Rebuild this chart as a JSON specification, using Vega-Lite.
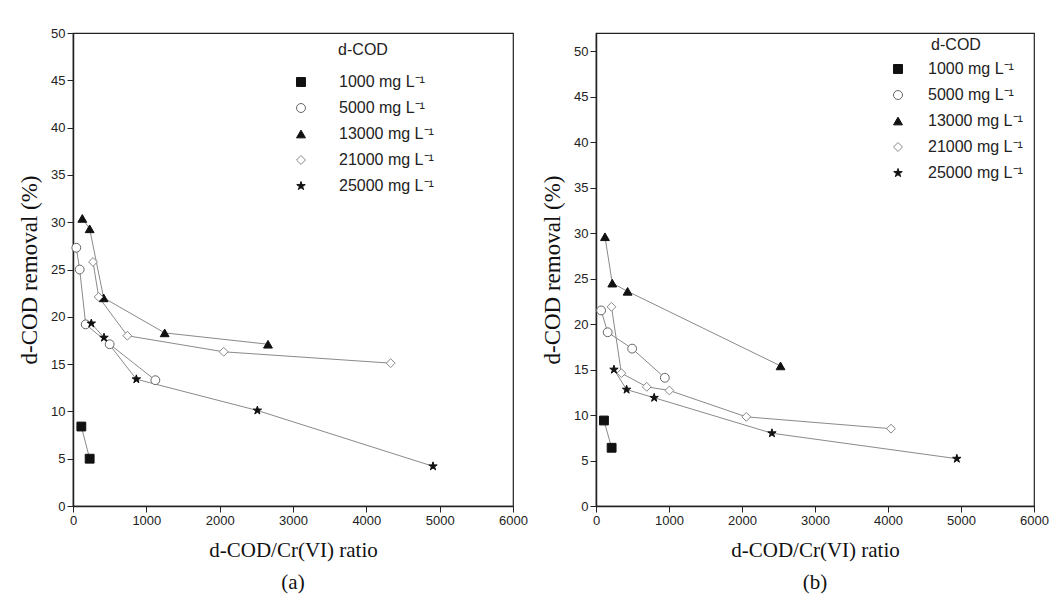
{
  "$schema": "https://vega.github.io/schema/vega-lite/v6.json",
  "background": "white",
  "padding": {"left": 17, "top": 26, "right": 0, "bottom": 5},
  "spacing": 11,
  "datasets": {
    "a": [
      {"series": "1000 mg L⁻¹", "ratio": 114, "removal": 8.4},
      {"series": "1000 mg L⁻¹", "ratio": 227, "removal": 5.0},
      {"series": "5000 mg L⁻¹", "ratio": 45, "removal": 27.3},
      {"series": "5000 mg L⁻¹", "ratio": 91, "removal": 25.0},
      {"series": "5000 mg L⁻¹", "ratio": 173, "removal": 19.2},
      {"series": "5000 mg L⁻¹", "ratio": 500, "removal": 17.1},
      {"series": "5000 mg L⁻¹", "ratio": 1123, "removal": 13.3},
      {"series": "13000 mg L⁻¹", "ratio": 127, "removal": 30.4},
      {"series": "13000 mg L⁻¹", "ratio": 227, "removal": 29.3},
      {"series": "13000 mg L⁻¹", "ratio": 418, "removal": 22.0},
      {"series": "13000 mg L⁻¹", "ratio": 1250, "removal": 18.3},
      {"series": "13000 mg L⁻¹", "ratio": 2659, "removal": 17.1},
      {"series": "21000 mg L⁻¹", "ratio": 273, "removal": 25.8},
      {"series": "21000 mg L⁻¹", "ratio": 350, "removal": 22.1},
      {"series": "21000 mg L⁻¹", "ratio": 741, "removal": 18.0},
      {"series": "21000 mg L⁻¹", "ratio": 2055, "removal": 16.3},
      {"series": "21000 mg L⁻¹", "ratio": 4332, "removal": 15.1},
      {"series": "25000 mg L⁻¹", "ratio": 250, "removal": 19.3},
      {"series": "25000 mg L⁻¹", "ratio": 423, "removal": 17.8},
      {"series": "25000 mg L⁻¹", "ratio": 864, "removal": 13.4},
      {"series": "25000 mg L⁻¹", "ratio": 2514, "removal": 10.1},
      {"series": "25000 mg L⁻¹", "ratio": 4909, "removal": 4.2}
    ],
    "b": [
      {"series": "1000 mg L⁻¹", "ratio": 109, "removal": 9.4},
      {"series": "1000 mg L⁻¹", "ratio": 214, "removal": 6.4},
      {"series": "5000 mg L⁻¹", "ratio": 70, "removal": 21.5},
      {"series": "5000 mg L⁻¹", "ratio": 160, "removal": 19.1},
      {"series": "5000 mg L⁻¹", "ratio": 495, "removal": 17.3},
      {"series": "5000 mg L⁻¹", "ratio": 943, "removal": 14.1},
      {"series": "13000 mg L⁻¹", "ratio": 123, "removal": 29.6},
      {"series": "13000 mg L⁻¹", "ratio": 223, "removal": 24.5},
      {"series": "13000 mg L⁻¹", "ratio": 433, "removal": 23.6},
      {"series": "13000 mg L⁻¹", "ratio": 2528, "removal": 15.4},
      {"series": "21000 mg L⁻¹", "ratio": 212, "removal": 21.9},
      {"series": "21000 mg L⁻¹", "ratio": 348, "removal": 14.6},
      {"series": "21000 mg L⁻¹", "ratio": 695, "removal": 13.1},
      {"series": "21000 mg L⁻¹", "ratio": 1005, "removal": 12.7},
      {"series": "21000 mg L⁻¹", "ratio": 2059, "removal": 9.8},
      {"series": "21000 mg L⁻¹", "ratio": 4041, "removal": 8.5},
      {"series": "25000 mg L⁻¹", "ratio": 246, "removal": 15.0},
      {"series": "25000 mg L⁻¹", "ratio": 419, "removal": 12.8},
      {"series": "25000 mg L⁻¹", "ratio": 797, "removal": 11.9},
      {"series": "25000 mg L⁻¹", "ratio": 2410, "removal": 8.0},
      {"series": "25000 mg L⁻¹", "ratio": 4943, "removal": 5.2}
    ]
  },
  "hconcat": [
    {
      "width": 440,
      "height": 473,
      "data": {"name": "a"},
      "title": {"text": "(a)", "orient": "bottom", "font": "Liberation Serif", "fontSize": 21, "fontWeight": "normal", "offset": 12, "color": "#111"},
      "layer": [
        {
          "mark": {"type": "line", "color": "#8a8a8a", "strokeWidth": 1},
          "encoding": {
            "x": {"field": "ratio", "type": "quantitative", "scale": {"domain": [0, 6000], "nice": false},
                  "axis": {"values": [0, 500, 1000, 1500, 2000, 2500, 3000, 3500, 4000, 4500, 5000, 5500, 6000], "title": "d-COD/Cr(VI) ratio", "grid": false,
                           "labelExpr": "datum.value % 1000 === 0 ? format(datum.value, 'd') : ''",
                           "tickSize": {"condition": {"test": "datum.value % 1000 === 0", "value": 6}, "value": 3}}},
            "y": {"field": "removal", "type": "quantitative", "scale": {"domain": [0, 50], "nice": false},
                  "axis": {"values": [0, 2.5, 5, 7.5, 10, 12.5, 15, 17.5, 20, 22.5, 25, 27.5, 30, 32.5, 35, 37.5, 40, 42.5, 45, 47.5, 50], "title": "d-COD removal (%)", "grid": false,
                           "labelExpr": "datum.value % 5 === 0 ? format(datum.value, 'd') : ''",
                           "tickSize": {"condition": {"test": "datum.value % 5 === 0", "value": 6}, "value": 3}}},
            "detail": {"field": "series"}
          }
        },
        {
          "mark": {"type": "point", "filled": true, "opacity": 1, "strokeWidth": 1},
          "encoding": {
            "x": {"field": "ratio", "type": "quantitative"},
            "y": {"field": "removal", "type": "quantitative"},
            "shape": {"field": "series", "type": "nominal",
                      "scale": {"domain": ["1000 mg L⁻¹", "5000 mg L⁻¹", "13000 mg L⁻¹", "21000 mg L⁻¹", "25000 mg L⁻¹"],
                                "range": ["square", "circle", "triangle-up", "diamond", "M0,-1L0.2245,-0.309L0.9511,-0.309L0.3633,0.118L0.5878,0.809L0,0.382L-0.5878,0.809L-0.3633,0.118L-0.9511,-0.309L-0.2245,-0.309Z"]},
                      "legend": {"title": "d-COD", "orient": "none", "legendX": 220, "legendY": 9, "labelOffset": 30, "titlePadding": 16, "rowPadding": 10}},
            "fill": {"field": "series", "type": "nominal",
                     "scale": {"domain": ["1000 mg L⁻¹", "5000 mg L⁻¹", "13000 mg L⁻¹", "21000 mg L⁻¹", "25000 mg L⁻¹"],
                               "range": ["#111111", "#ffffff", "#111111", "#ffffff", "#111111"]},
                     "legend": {"title": "d-COD", "orient": "none", "legendX": 220, "legendY": 9, "labelOffset": 30, "titlePadding": 16, "rowPadding": 10}},
            "stroke": {"field": "series", "type": "nominal",
                       "scale": {"domain": ["1000 mg L⁻¹", "5000 mg L⁻¹", "13000 mg L⁻¹", "21000 mg L⁻¹", "25000 mg L⁻¹"],
                                 "range": ["#111111", "#666666", "#111111", "#888888", "#111111"]},
                       "legend": {"title": "d-COD", "orient": "none", "legendX": 220, "legendY": 9, "labelOffset": 30, "titlePadding": 16, "rowPadding": 10}},
            "size": {"value": 78}
          }
        }
      ]
    },
    {
      "width": 438,
      "height": 473,
      "data": {"name": "b"},
      "title": {"text": "(b)", "orient": "bottom", "font": "Liberation Serif", "fontSize": 21, "fontWeight": "normal", "offset": 12, "color": "#111"},
      "layer": [
        {
          "mark": {"type": "line", "color": "#8a8a8a", "strokeWidth": 1},
          "encoding": {
            "x": {"field": "ratio", "type": "quantitative", "scale": {"domain": [0, 6000], "nice": false},
                  "axis": {"values": [0, 500, 1000, 1500, 2000, 2500, 3000, 3500, 4000, 4500, 5000, 5500, 6000], "title": "d-COD/Cr(VI) ratio", "grid": false,
                           "labelExpr": "datum.value % 1000 === 0 ? format(datum.value, 'd') : ''",
                           "tickSize": {"condition": {"test": "datum.value % 1000 === 0", "value": 6}, "value": 3}}},
            "y": {"field": "removal", "type": "quantitative", "scale": {"domain": [0, 52], "nice": false},
                  "axis": {"values": [0, 2.5, 5, 7.5, 10, 12.5, 15, 17.5, 20, 22.5, 25, 27.5, 30, 32.5, 35, 37.5, 40, 42.5, 45, 47.5, 50], "title": "d-COD removal (%)", "grid": false,
                           "labelExpr": "datum.value % 5 === 0 ? format(datum.value, 'd') : ''",
                           "tickSize": {"condition": {"test": "datum.value % 5 === 0", "value": 6}, "value": 3}}},
            "detail": {"field": "series"}
          }
        },
        {
          "mark": {"type": "point", "filled": true, "opacity": 1, "strokeWidth": 1},
          "encoding": {
            "x": {"field": "ratio", "type": "quantitative"},
            "y": {"field": "removal", "type": "quantitative"},
            "shape": {"field": "series", "type": "nominal",
                      "scale": {"domain": ["1000 mg L⁻¹", "5000 mg L⁻¹", "13000 mg L⁻¹", "21000 mg L⁻¹", "25000 mg L⁻¹"],
                                "range": ["square", "circle", "triangle-up", "diamond", "M0,-1L0.2245,-0.309L0.9511,-0.309L0.3633,0.118L0.5878,0.809L0,0.382L-0.5878,0.809L-0.3633,0.118L-0.9511,-0.309L-0.2245,-0.309Z"]},
                      "legend": {"title": "d-COD", "orient": "none", "legendX": 294, "legendY": 4, "labelOffset": 22, "rowPadding": 10}},
            "fill": {"field": "series", "type": "nominal",
                     "scale": {"domain": ["1000 mg L⁻¹", "5000 mg L⁻¹", "13000 mg L⁻¹", "21000 mg L⁻¹", "25000 mg L⁻¹"],
                               "range": ["#111111", "#ffffff", "#111111", "#ffffff", "#111111"]},
                     "legend": {"title": "d-COD", "orient": "none", "legendX": 294, "legendY": 4, "labelOffset": 22, "rowPadding": 10}},
            "stroke": {"field": "series", "type": "nominal",
                       "scale": {"domain": ["1000 mg L⁻¹", "5000 mg L⁻¹", "13000 mg L⁻¹", "21000 mg L⁻¹", "25000 mg L⁻¹"],
                                 "range": ["#111111", "#666666", "#111111", "#888888", "#111111"]},
                       "legend": {"title": "d-COD", "orient": "none", "legendX": 294, "legendY": 4, "labelOffset": 22, "rowPadding": 10}},
            "size": {"value": 78}
          }
        }
      ]
    }
  ],
  "resolve": {
    "scale": {"shape": "independent", "fill": "independent", "stroke": "independent"},
    "legend": {"shape": "independent", "fill": "independent", "stroke": "independent"}
  },
  "config": {
    "view": {"stroke": "#222222", "strokeWidth": 1.2},
    "axis": {
      "domainColor": "#222222", "domainWidth": 1.5,
      "tickColor": "#222222", "tickWidth": 1,
      "labelFont": "Liberation Sans, sans-serif", "labelFontSize": 13, "labelColor": "#222222", "labelPadding": 2,
      "titleFont": "Liberation Serif, serif", "titleFontSize": 21, "titleFontWeight": "normal", "titleColor": "#111111"
    },
    "axisX": {"titlePadding": 12, "labelFlush": false},
    "axisY": {"titlePadding": 9, "titleFontSize": 23},
    "legend": {
      "titleFont": "Liberation Sans, sans-serif", "titleFontSize": 16, "titleFontWeight": "normal", "titleColor": "#222222",
      "titleAnchor": "middle", "titlePadding": 8,
      "labelFont": "Liberation Sans, sans-serif", "labelFontSize": 16, "labelColor": "#222222",
      "labelOffset": 28, "rowPadding": 9, "symbolSize": 80, "symbolStrokeWidth": 1
    }
  }
}
